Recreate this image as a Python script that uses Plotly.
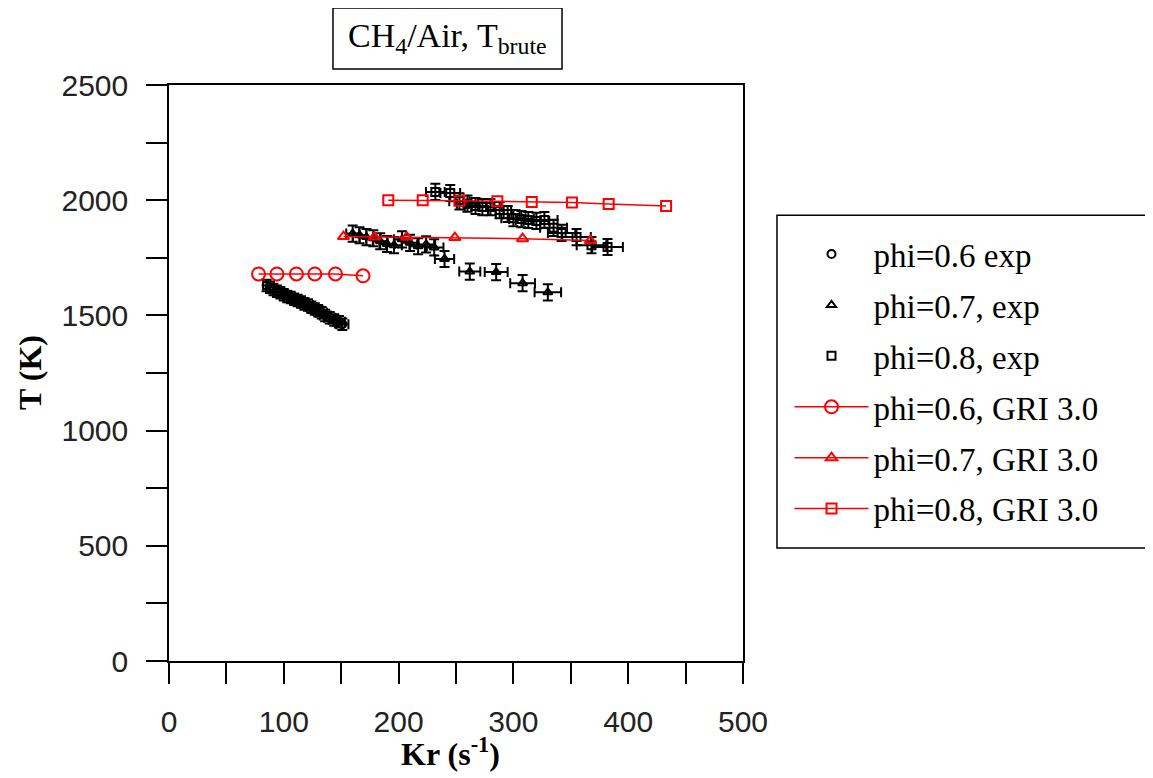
import plotly.graph_objects as go

# ---------------- data ----------------
kr_06_exp = [85, 88, 91, 94, 97, 100, 103, 106, 109, 112, 115, 118, 121, 124, 127, 130, 133, 136, 140, 144, 148, 151]
T_06_exp = [1630, 1622, 1612, 1605, 1598, 1590, 1582, 1578, 1570, 1565, 1558, 1550, 1545, 1535, 1528, 1520, 1512, 1500, 1490, 1480, 1472, 1462]

kr_07_exp = [160, 166, 172, 178, 184, 190, 196, 203, 210, 217, 224, 231, 240, 262, 285, 308, 330]
T_07_exp = [1855, 1848, 1840, 1835, 1822, 1810, 1805, 1830, 1815, 1800, 1808, 1795, 1745, 1690, 1688, 1640, 1600]

kr_08_exp = [232, 245, 253, 260, 267, 273, 280, 288, 295, 300, 307, 313, 320, 327, 335, 342, 355, 368, 382]
T_08_exp = [2036, 2031, 1995, 1985, 1975, 1970, 1970, 1957, 1940, 1922, 1918, 1914, 1910, 1914, 1880, 1858, 1840, 1805, 1797]

kr_06_gri = [78, 94, 111, 127, 145, 169]
T_06_gri = [1680, 1680, 1680, 1680, 1680, 1672]

kr_07_gri = [152, 179, 207, 249, 308, 367]
T_07_gri = [1842, 1840, 1840, 1838, 1833, 1825]

kr_08_gri = [191, 221, 253, 286, 316, 351, 383, 433]
T_08_gri = [2000, 2000, 1998, 1995, 1992, 1990, 1983, 1975]

T_err_06 = 25
T_err = 35
kr_err_pct = 3.5

names_exp = ["phi=0.6 exp", "phi=0.7, exp", "phi=0.8, exp"]
names_gri = ["phi=0.6, GRI 3.0", "phi=0.7, GRI 3.0", "phi=0.8, GRI 3.0"]

x_ticks = [0, 100, 200, 300, 400, 500]
y_ticks = [0, 500, 1000, 1500, 2000, 2500]

# ---------------- figure ----------------
fig = go.Figure()

exp_sets = [
    (kr_06_exp, T_06_exp, "circle-open", T_err_06),
    (kr_07_exp, T_07_exp, "triangle-up-open", T_err),
    (kr_08_exp, T_08_exp, "square-open", T_err),
]
for i, (xs, ys, sym, terr) in enumerate(exp_sets):
    fig.add_trace(go.Scatter(
        x=xs, y=ys, mode="markers", name=names_exp[i],
        legendgroup="g%d" % i,
        marker=dict(symbol=sym, size=8, color="black", line=dict(width=2, color="black")),
        error_y=dict(type="constant", value=terr, color="black", thickness=2, width=5),
        error_x=dict(type="percent", value=kr_err_pct, color="black", thickness=2, width=5),
    ))

gri_sets = [
    (kr_06_gri, T_06_gri, "circle-open", 13),
    (kr_07_gri, T_07_gri, "triangle-up-open", 10),
    (kr_08_gri, T_08_gri, "square-open", 10),
]
for i, (xs, ys, sym, sz) in enumerate(gri_sets):
    fig.add_trace(go.Scatter(
        x=xs, y=ys, mode="lines+markers", name=names_gri[i],
        legendgroup="g%d" % (i + 3),
        line=dict(color="red", width=1.5),
        marker=dict(symbol=sym, size=sz, color="red", line=dict(width=2, color="red")),
    ))

axis_common = dict(
    showgrid=False, zeroline=False, showline=True, linecolor="black", linewidth=1.5,
    mirror=True, ticks="outside", ticklen=21, tickwidth=1.5, tickcolor="black",
    tickfont=dict(family="Liberation Sans", size=30, color="#222"),
    ticklabelstandoff=12,
)

fig.update_xaxes(
    range=[0, 500], tickvals=x_ticks, ticktext=[str(v) for v in x_ticks],
    minor=dict(dtick=50, tick0=0, ticks="outside", ticklen=21, tickwidth=1.5, tickcolor="black"),
    **axis_common,
)
fig.update_yaxes(
    range=[0, 2500], tickvals=y_ticks, ticktext=[str(v) for v in y_ticks],
    minor=dict(dtick=250, tick0=0, ticks="outside", ticklen=21, tickwidth=1.5, tickcolor="black"),
    **axis_common,
)

# axis titles
fig.add_annotation(text="Kr (s<sup>-1</sup>)", xref="paper", yref="paper",
                   x=0.491, y=-0.158, xanchor="center", yanchor="middle", showarrow=False,
                   font=dict(family="Liberation Serif", size=32, color="black", weight="bold"))
fig.add_annotation(text="T (K)", xref="paper", yref="paper", textangle=-90,
                   x=-0.2422, y=0.5017, xanchor="center", yanchor="middle", showarrow=False,
                   font=dict(family="Liberation Serif", size=32, color="black", weight="bold"))

# title box
fig.add_shape(type="rect", xref="paper", yref="paper",
              x0=0.2857, x1=0.6847, y0=1.0278, y1=1.1337,
              line=dict(color="black", width=1.5), fillcolor="white")
fig.add_annotation(text="CH<sub>4</sub>/Air, T<sub>brute</sub>", xref="paper", yref="paper",
                   x=0.4852, y=1.0816, xanchor="center", yanchor="middle", showarrow=False,
                   font=dict(family="Liberation Serif", size=34, color="black"))

# legend box
fig.add_shape(type="rect", xref="paper", yref="paper",
              x0=1.0592, x1=1.709, y0=0.196, y1=0.774,
              line=dict(color="black", width=1.5))

fig.update_layout(
    width=1145, height=770,
    margin=dict(l=161, r=410, t=77, b=117),
    paper_bgcolor="white", plot_bgcolor="white",
    showlegend=True,
    legend=dict(
        x=1.081, y=0.755, xanchor="left", yanchor="top",
        font=dict(family="Liberation Serif", size=33, color="black"),
        bgcolor="rgba(0,0,0,0)", borderwidth=0,
        itemwidth=74, tracegroupgap=5, traceorder="grouped",
    ),
)

fig.write_html("out.html")
